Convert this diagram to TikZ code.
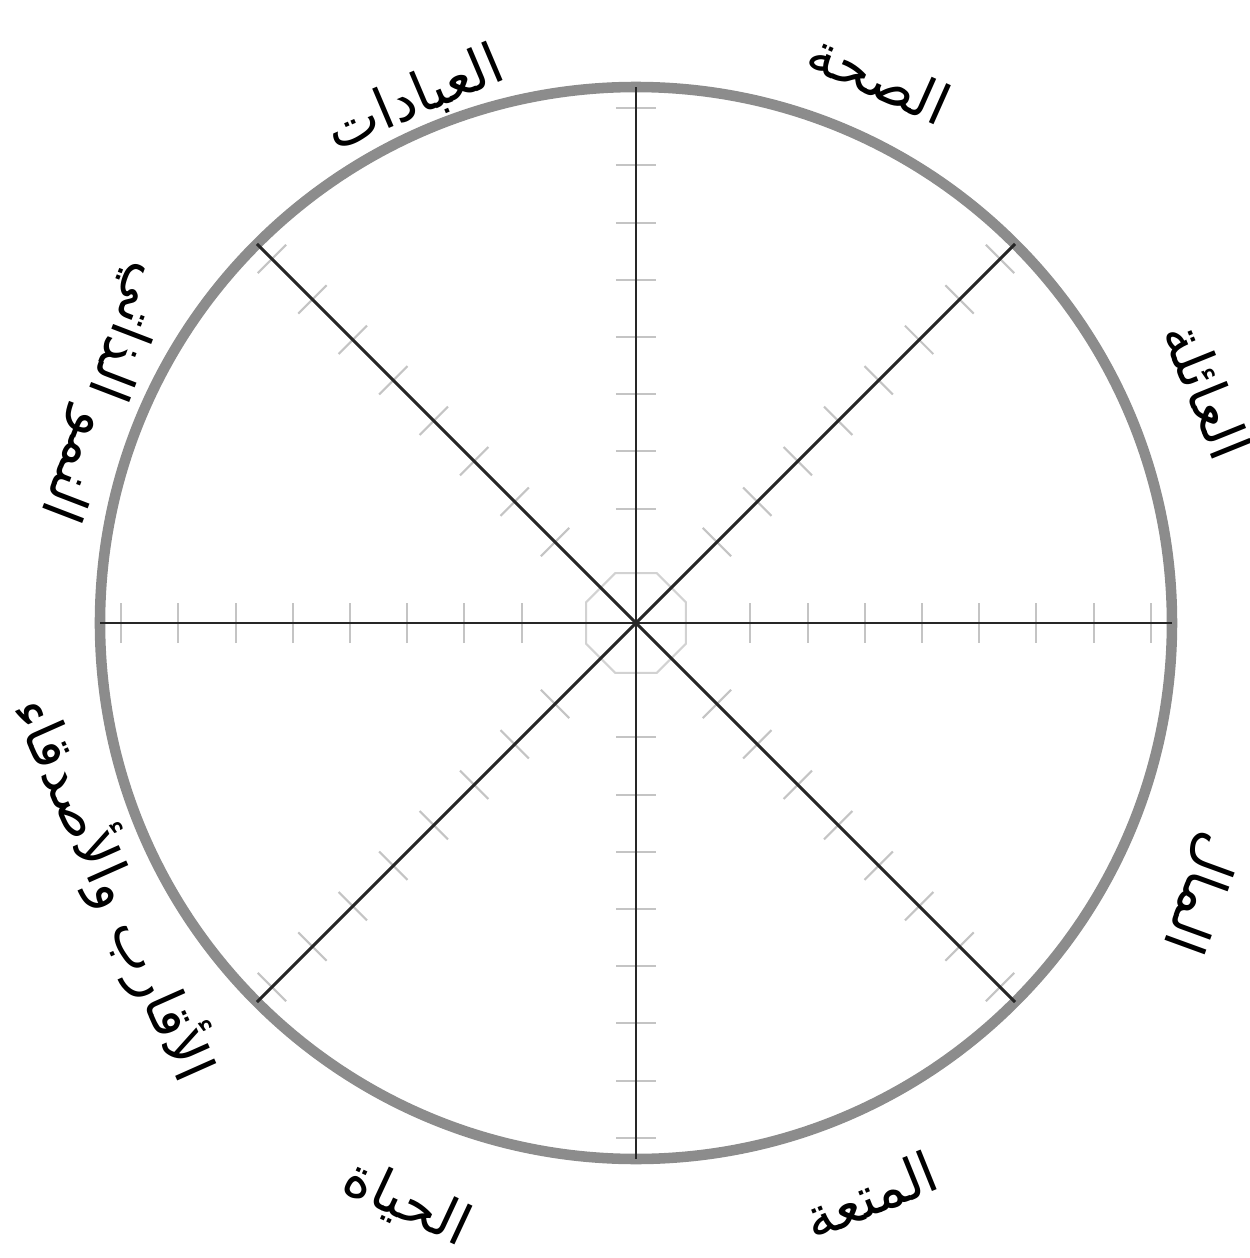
\documentclass[tikz,border=0pt]{standalone}
\usepackage{fontspec}
\usepackage{tikz}
\usetikzlibrary{shapes.geometric,calc}
\TeXXeTstate=1
\newfontfamily\arabicfont[Script=Arabic]{DejaVu Sans}
\definecolor{whRim}{HTML}{8C8C8C}
\definecolor{whSpoke}{HTML}{262626}
\definecolor{whTick}{HTML}{C4C4C4}
\definecolor{whHub}{HTML}{D2D2D2}
\tikzset{
  wh/.style={line cap=butt},
  rim/.style={draw=whRim, line width=3pt, circle, outer sep=0pt, inner sep=0pt, minimum size=10.72cm},
  spoke/.style={draw=whSpoke, line width=.85pt},
  tick/.style={draw=whTick, line width=.6pt},
  hub/.style={draw=whHub, line width=.6pt, regular polygon, regular polygon sides=8, minimum size=1.08cm, inner sep=0pt},
  lbl/.style={font=\fontsize{16}{18}\selectfont\arabicfont, inner sep=1pt},
}
\begin{document}
\begin{tikzpicture}[wh]
\useasboundingbox (-6.36,-6.35) rectangle (6.14,6.23);
\node[rim] (rim) at (0,0) {};

% scale marks on every spoke
\foreach \a in {0,45,...,315}
  \foreach \k in {2,...,9}
    \draw[tick] ({\a}:{\k*0.572}) ++({\a+90}:0.2) -- ++({\a-90}:0.4);

\node[hub] (hub) at (0,0) {};
\foreach \a in {0,45,...,315} \draw[spoke] (hub.center) -- (rim.\a);

\foreach \i/\x/\y/\r/\t in {1/-2.21/5.24/23/{العبادات}, 2/2.44/5.46/-24/{الصحة},
                            3/5.72/2.33/-68/{العائلة}, 4/5.64/-2.70/-110/{المال},
                            5/2.34/-5.72/22/{المتعة}, 6/-2.29/-5.80/-25/{الحياة},
                            7/-5.22/-2.66/-66/{الأقارب والأصدقاء}, 8/-5.33/2.31/-111/{النمو الذاتي}}
  \node[lbl, rotate=\r] (l\i) at (\x,\y) {\beginR\t\endR};
\end{tikzpicture}
\end{document}
